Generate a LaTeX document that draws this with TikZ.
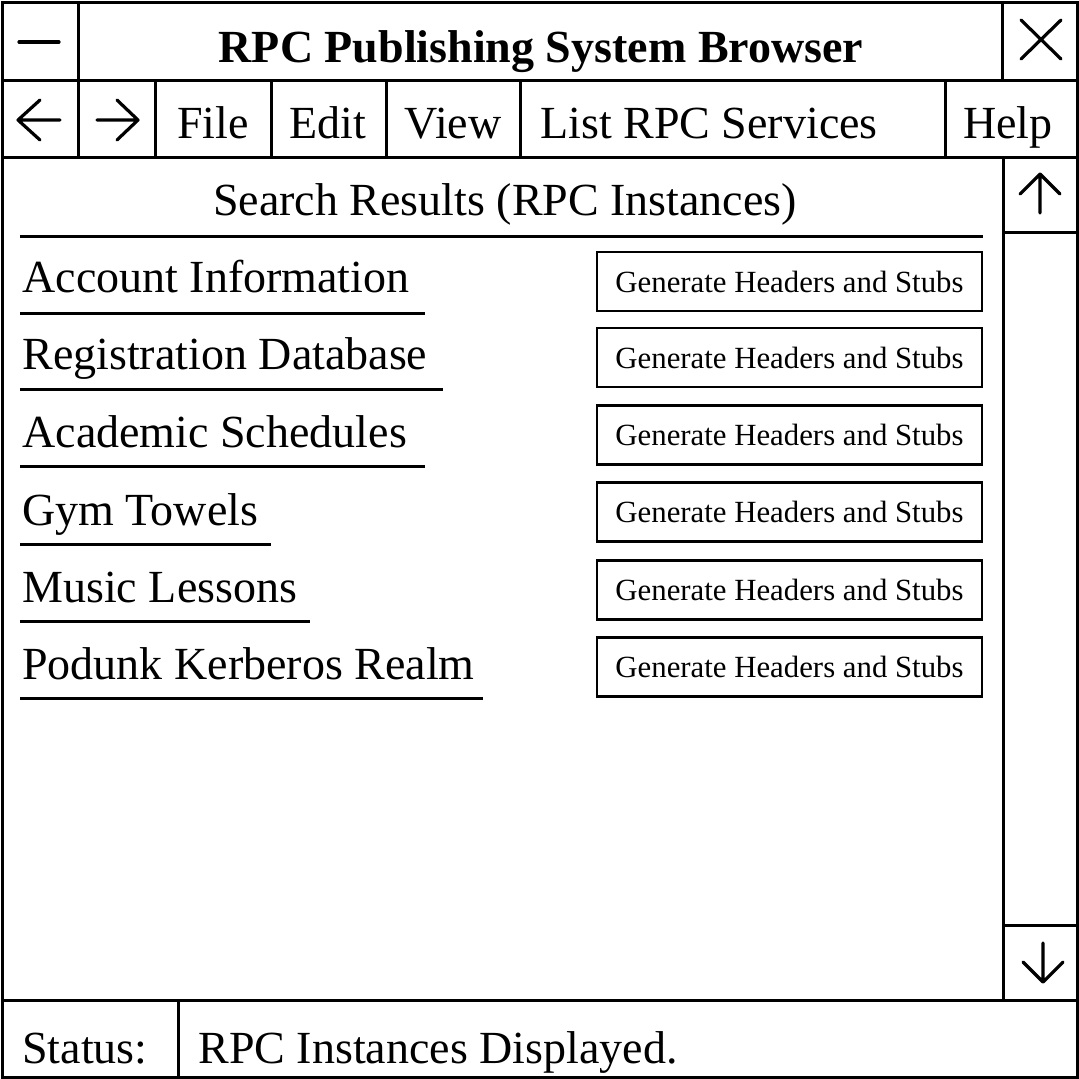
\documentclass[tikz,border=0pt]{standalone}
\usepackage{fontspec}
\setmainfont{Liberation Serif}
\begin{document}
\begin{tikzpicture}[x={(0.5pt,0)}, y={(0,-0.5pt)},
  frame/.style={line width=1.5pt},
  glyph/.style={line width=1.6pt, line cap=round, line join=round},
  bigtext/.style={font=\fontsize{23}{27}\selectfont, inner sep=0pt},
  menutext/.style={bigtext, anchor=base},
  itemtext/.style={bigtext, anchor=base west},
  rule/.style={line width=1.5pt},
  genbtn/.style={draw, line width=1.2pt, minimum width=192.5pt, minimum height=29.5pt,
                 inner sep=0pt, font=\fontsize{15.4}{18}\selectfont}]
\useasboundingbox (0,0) rectangle (1079,1078);

% window outline
\draw[frame] (2,2) rectangle (1077,1077);
% title bar
\draw[frame] (2,80) -- (1077,80);
\draw[frame] (78,2) -- (78,80);
\draw[frame] (1002,2) -- (1002,80);
% menu bar
\draw[frame] (2,157) -- (1077,157);
\foreach \xx in {78,155,271,386,520,945} \draw[frame] (\xx,80) -- (\xx,157);
% scroll bar
\draw[frame] (1003,157) -- (1003,1000);
\draw[frame] (1003,232) -- (1077,232);
\draw[frame] (1003,925) -- (1077,925);
% status bar
\draw[frame] (2,1000) -- (1077,1000);
\draw[frame] (178,1000) -- (178,1077);

% title bar contents
\draw[glyph] (19,42) -- (59,42);
\node[bigtext, anchor=base, font=\fontsize{23}{27}\selectfont\bfseries] (title) at (541,62) {RPC Publishing System Browser};
\draw[glyph] (1021,20) -- (1061,59) (1061,20) -- (1021,59);

% menu bar contents
\draw[glyph] (60,120) -- (18,120) (40,100) -- (18,120) -- (40,140);
\draw[glyph] (97,120) -- (138,120) (117,100) -- (138,120) -- (117,140);
\node[menutext] (file) at (213,138) {File};
\node[menutext] (edit) at (328,138) {Edit};
\node[menutext] (view) at (453,138) {View};
\node[menutext, anchor=base west] (list) at (540,138) {List RPC Services};
\node[menutext] (help) at (1008,138) {Help};

% scroll arrows
\draw[glyph] (1040,213) -- (1040,174) (1020,194) -- (1040,174) -- (1060,194);
\draw[glyph] (1043,943) -- (1043,982) (1023,962) -- (1043,982) -- (1063,962);

% results heading
\node[menutext] (heading) at (505,215) {Search Results (RPC Instances)};
\draw[rule] (20,236) -- (983,236);

% result entries
\node[itemtext] (acct) at (22,292) {Account Information};
\draw[rule] (20,313) -- (425,313);
\node[itemtext] (reg) at (22,369) {Registration Database};
\draw[rule] (20,389) -- (443,389);
\node[itemtext] (acad) at (22,447) {Academic Schedules};
\draw[rule] (20,466) -- (425,466);
\node[itemtext] (gym) at (22,525) {Gym Towels};
\draw[rule] (20,544) -- (271,544);
\node[itemtext] (music) at (22,602) {Music Lessons};
\draw[rule] (20,621) -- (310,621);
\node[itemtext] (podunk) at (22,679) {Podunk Kerberos Realm};
\draw[rule] (20,698) -- (483,698);

% generate buttons
\node[genbtn] (b1) at (789.5,281.5) {Generate Headers and Stubs};
\node[genbtn] (b2) at (789.5,357.5) {Generate Headers and Stubs};
\node[genbtn] (b3) at (789.5,435) {Generate Headers and Stubs};
\node[genbtn] (b4) at (789.5,512) {Generate Headers and Stubs};
\node[genbtn] (b5) at (789.5,590) {Generate Headers and Stubs};
\node[genbtn] (b6) at (789.5,667) {Generate Headers and Stubs};

% status bar contents
\node[itemtext] (status) at (22,1063) {Status:};
\node[itemtext] (msg) at (198,1063) {RPC Instances Displayed.};
\end{tikzpicture}
\end{document}
